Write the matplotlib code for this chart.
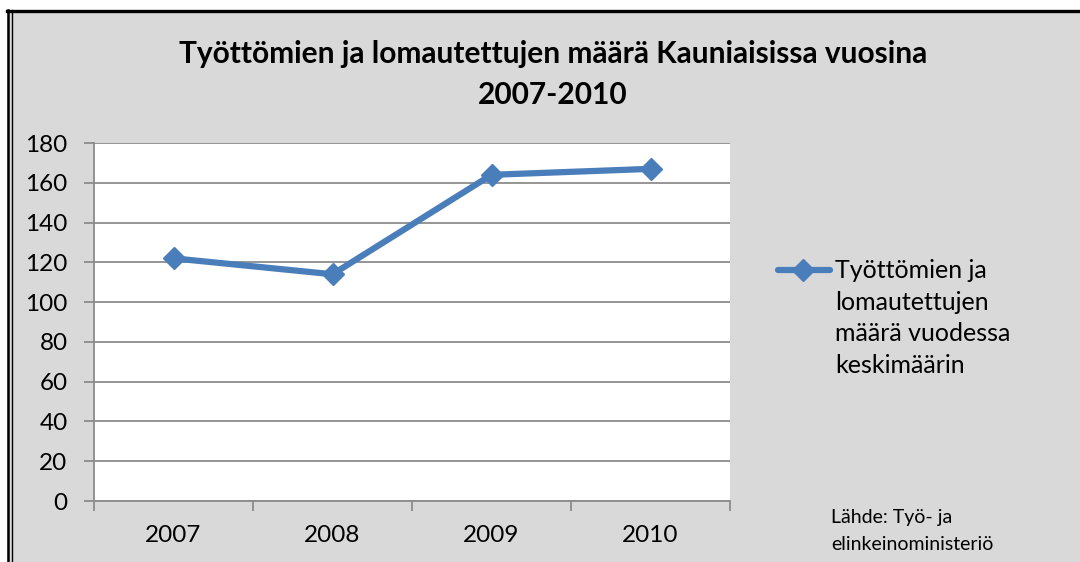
import matplotlib.pyplot as plt
from matplotlib.patches import Rectangle
from matplotlib.lines import Line2D

years = ["2007", "2008", "2009", "2010"]
counts = [122, 114, 164, 167]
y_ticks = [0, 20, 40, 60, 80, 100, 120, 140, 160, 180]

title = "Työttömien ja lomautettujen määrä Kauniaisissa vuosina\n2007-2010"
series_label = "Työttömien ja\nlomautettujen\nmäärä vuodessa\nkeskimäärin"
source = "Lähde: Työ- ja\nelinkeinoministeriö"

W, H = 1080, 562
BLUE = '#4a7ebb'
GRID = '#8c8c8c'
plt.rcParams['font.family'] = ['Lato', 'DejaVu Sans']

fig = plt.figure(figsize=(W / 100, H / 100), dpi=100, facecolor='white')

# grey chart background inside the frame
fig.patches.append(Rectangle((7 / W, 0), 1 - 7 / W, 1 - 10 / H,
                             transform=fig.transFigure, facecolor='#d9d9d9',
                             edgecolor='none', zorder=-5))
# frame: thick top edge, double line on the left
fig.add_artist(Line2D([7 / W, 1], [1 - 10.5 / H, 1 - 10.5 / H], color='black', lw=2.4, zorder=5))
fig.add_artist(Line2D([7.8 / W, 7.8 / W], [0, 1 - 10 / H], color='black', lw=1.8, zorder=5))
fig.add_artist(Line2D([11.8 / W, 11.8 / W], [0, 1 - 10 / H], color='black', lw=1.0, zorder=5))

ax = fig.add_axes([94 / W, 1 - 501 / H, 636 / W, 358 / H])
ax.set_facecolor('white')

x = list(range(len(years)))
ax.plot(x, counts, color=BLUE, lw=4.5, marker='D', markersize=11,
        markeredgecolor=BLUE, markerfacecolor=BLUE,
        solid_joinstyle='round', solid_capstyle='round', zorder=3)

ax.set_xlim(-0.5, len(years) - 0.5)
ax.set_ylim(0, 180)
ax.set_yticks(y_ticks)
ax.set_yticklabels([str(v) for v in y_ticks], fontsize=17.5)
ax.yaxis.grid(True, color=GRID, lw=1.3)
ax.set_axisbelow(True)

ax.set_xticks([i - 0.5 for i in range(len(years) + 1)])
ax.set_xticklabels([])
ax.set_xticks(x, minor=True)
ax.set_xticklabels(years, minor=True, fontsize=17.5)
ax.tick_params(axis='x', which='minor', length=0, pad=17)
ax.tick_params(axis='x', which='major', length=7, width=1.3, color=GRID)
ax.tick_params(axis='y', length=7, width=1.3, color=GRID, pad=12)

for side in ['top', 'right']:
    ax.spines[side].set_visible(False)
for side in ['left', 'bottom']:
    ax.spines[side].set_color(GRID)
    ax.spines[side].set_linewidth(1.3)

fig.text(553 / W, 1 - 40 / H, title, ha='center', va='top', fontsize=21.5,
         fontweight='bold', linespacing=1.55)

# legend key next to the first line of the label
fig.add_artist(Line2D([778 / W, 830 / W], [1 - 270 / H, 1 - 270 / H], color=BLUE,
                      lw=4.5, solid_capstyle='round'))
fig.add_artist(Line2D([803 / W], [1 - 270 / H], marker='D', markersize=11,
                      color=BLUE, lw=0))
fig.text(835 / W, 1 - 259 / H, series_label, ha='left', va='top', fontsize=18,
         linespacing=1.45)

fig.text(831 / W, 1 - 509 / H, source, ha='left', va='top', fontsize=14,
         linespacing=1.7)

fig.savefig('out.png', dpi=100, facecolor=fig.get_facecolor())
